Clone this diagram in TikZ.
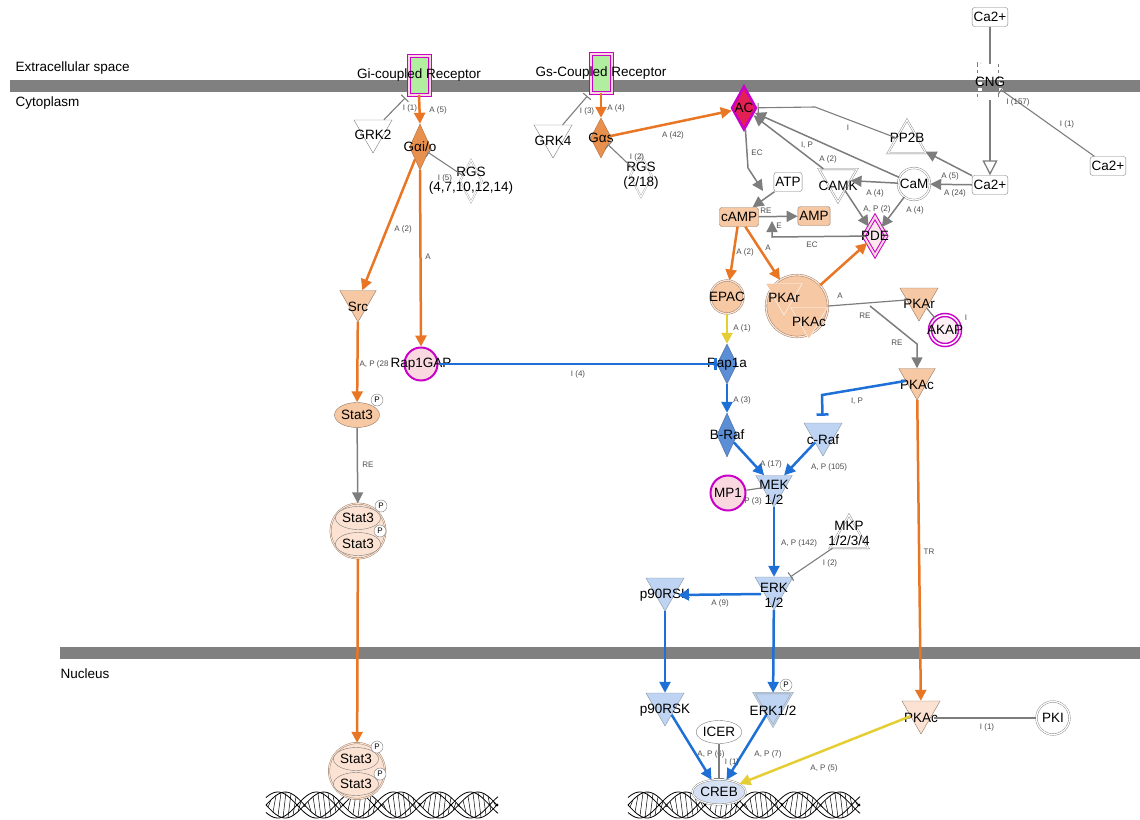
\documentclass[tikz,border=0pt]{standalone}
\usepackage{fontspec}
\setmainfont{Liberation Sans}
\usetikzlibrary{shapes.geometric,arrows.meta,positioning}

\definecolor{membrane}{RGB}{128,128,128}
\definecolor{edgeO}{RGB}{232,118,36}
\definecolor{edgeB}{RGB}{30,112,214}
\definecolor{edgeY}{RGB}{228,206,52}
\definecolor{edgeG}{RGB}{125,125,125}
\definecolor{fillO}{RGB}{232,145,78}
\definecolor{fillOL}{RGB}{246,200,164}
\definecolor{fillOP}{RGB}{251,226,210}
\definecolor{fillB}{RGB}{92,142,214}
\definecolor{fillBL}{RGB}{190,212,242}
\definecolor{fillBP}{RGB}{214,226,244}
\definecolor{mag}{RGB}{200,0,200}
\definecolor{fillPk}{RGB}{250,216,224}
\definecolor{recG}{RGB}{178,238,160}
\definecolor{acR}{RGB}{226,32,84}

\tikzset{
  lbl/.style={font=\fontsize{13.5}{15}\selectfont},
  elab/.style={font=\fontsize{8}{8.5}\selectfont, text=black!70, inner sep=0.5pt},
  tri/.style={regular polygon, regular polygon sides=3, inner sep=0pt, minimum size=44pt, draw=edgeG},
  tridown/.style={tri, shape border rotate=180},
  dmd/.style={diamond, inner sep=0pt, minimum width=21pt, minimum height=42pt, draw=edgeG},
  chem/.style={rectangle, rounded corners=2.5pt, draw=edgeG, lbl, inner sep=1.5pt, minimum height=19pt},
  ring/.style={circle, draw=edgeG, double=white, double distance=1.3pt, minimum size=32pt, inner sep=0pt},
  oval/.style={ellipse, draw=edgeG, inner sep=0pt, minimum width=45pt, minimum height=25pt, lbl},
  pdot/.style={circle, draw=edgeG, fill=white, inner sep=0pt, minimum size=12pt, font=\fontsize{8}{8}\selectfont},
  rcpt/.style={rectangle, draw=mag, double=fillPk, double distance=2pt, line width=1pt, fill=recG, minimum width=21pt, minimum height=39pt},
  tip/.style={-{Triangle[length=11pt,width=11pt]}},
  oedge/.style={draw=edgeO, line width=2.5pt, tip},
  bedge/.style={draw=edgeB, line width=2.5pt, tip},
  yedge/.style={draw=edgeY, line width=2.5pt, tip},
  gedge/.style={draw=edgeG, line width=1.5pt, tip},
  gline/.style={draw=edgeG, line width=1.2pt},
  gbar/.style={draw=edgeG, line width=1.1pt, -{Bar[width=10pt]}},
  bbar/.style={draw=edgeB, line width=2.5pt, -{Bar[width=12pt]}},
}

\begin{document}
\begin{tikzpicture}[x=1pt,y=-1pt]
    \useasboundingbox (0,0) rectangle (1140,819);
    % membranes
    \fill[membrane] (10,80) rectangle (1140,92);
    \fill[membrane] (60,647) rectangle (1140,659);
    \node[lbl, anchor=west] (extra) at (12,68) {Extracellular space};
    \node[lbl, anchor=west] (cyto) at (12,103) {Cytoplasm};
    \node[lbl, anchor=west] (nucl) at (57,674) {Nucleus};

    % DNA
    \foreach \xa in {266,628} {
      \draw[line width=0.8pt, domain=0:232, samples=140, smooth] plot ({\xa+\x},{805+13*sin(\x*4.6753)});
      \draw[line width=0.8pt, domain=0:232, samples=140, smooth] plot ({\xa+\x},{805+13*sin(\x*4.6753+35)});
      \draw[line width=0.8pt, domain=0:232, samples=140, smooth] plot ({\xa+\x},{805-13*sin(\x*4.6753)});
      \draw[line width=0.8pt, domain=0:232, samples=140, smooth] plot ({\xa+\x},{805-13*sin(\x*4.6753+35)});
      \foreach \t in {2,7,...,228}
        \draw[line width=0.5pt] ({\xa+\t},{805+13*sin(\t*4.6753)}) -- ({\xa+\t+3},{805-13*sin((\t+3)*4.6753)});
    }

    % Gi branch
    \node[rcpt, label={[lbl]center:Gi-coupled Receptor}] (gir) at (419,75) {};
    \node[tridown, fill=white, label={[lbl,yshift=-4pt]center:GRK2}] (grk2) at (373,131) {};
    \node[dmd, fill=fillO, draw=fillO!75!black, minimum height=46pt, label={[lbl]center:Gαi/o}] (gio) at (420,147) {};
    \node[dmd, draw=edgeG!70, double=white, double distance=1pt, minimum width=22pt, label={[lbl,align=center]center:{RGS\\(4,7,10,12,14)}}] (rgsA) at (471,181) {};
    \node[tridown, minimum size=42pt, fill=fillOL, draw=fillOL!60!black, label={[lbl,yshift=-6pt]center:Src}] (src) at (358,301) {};
    \node[circle, draw=mag, line width=2pt, fill=fillPk, minimum size=33pt, inner sep=0pt, label={[lbl]center:Rap1GAP}] (rapgap) at (421,364) {};
    \node[oval, fill=fillOL, draw=fillOL!60!black] (stat) at (357,415) {Stat3};
    \node[pdot] (statp) at (377,400) {P};
    \node[circle, draw=fillOL!60!black, double=fillOP, double distance=1pt, fill=fillOP, minimum size=55pt, inner sep=0pt] (statdim) at (358,531) {};
    \node[oval, fill=fillOP, minimum height=23pt] (statdimA) at (358,518) {Stat3};
    \node[oval, fill=fillOP, minimum height=23pt] (statdimB) at (358,544) {Stat3};
    \node[pdot] (statdimP) at (381,506) {P};
    \node[pdot] (statdimQ) at (380,531) {P};
    \node[circle, draw=fillOL!60!black, double=fillOP, double distance=1pt, fill=fillOP, minimum size=56pt, inner sep=0pt] (statnuc) at (357,771) {};
    \node[oval, fill=fillOP, minimum height=23pt] (statnucA) at (356,759) {Stat3};
    \node[oval, fill=fillOP, minimum height=23pt] (statnucB) at (356,784) {Stat3};
    \node[pdot] (statnucP) at (377,747) {P};
    \node[pdot] (statnucQ) at (380,774) {P};

    % Gs branch
    \node[rcpt, label={[lbl]center:Gs-Coupled Receptor}] (gsr) at (601,73) {};
    \node[tridown, fill=white, label={[lbl,yshift=-5pt]center:GRK4}] (grk4) at (553,136) {};
    \node[dmd, fill=fillO, draw=fillO!75!black, minimum height=40pt, label={[lbl]center:Gαs}] (gas) at (601,138) {};
    \node[dmd, draw=edgeG!70, double=white, double distance=1pt, minimum width=22pt, label={[lbl,align=center]center:{RGS\\(2/18)}}] (rgsB) at (641,176) {};
    \node[dmd, fill=acR, draw=mag, line width=2.5pt, minimum width=25pt, minimum height=44pt, label={[lbl]center:AC}] (ac) at (744,108) {};
    \node[tri, draw=edgeG, double=white, double distance=1.2pt, fill=white, label={[lbl,yshift=4pt]center:PP2B}] (pp2b) at (907,142) {};
    \node[tridown, draw=edgeG, double=white, double distance=1.2pt, fill=white, label={[lbl,yshift=-6pt]center:CAMK}] (camk) at (838,180) {};
    \node[ring, fill=white, label={[lbl]center:CaM}] (cam) at (914,184) {};
    \node[chem, fill=white] (ca2c) at (990,185) {Ca2+};
    \node[chem, fill=white] (ca2t) at (990,17) {Ca2+};
    \node[chem, fill=white] (ca2r) at (1108,166) {Ca2+};
    \node[rectangle, draw=edgeG, dashed, double, double distance=4pt, minimum width=21pt, minimum height=36pt, label={[lbl]center:CNG}] (cng) at (990,82) {};
    \node[chem, fill=white] (atp) at (788,182) {ATP};
    \node[chem, fill=fillOL, draw=fillOL!60!black] (camp) at (739,217) {cAMP};
    \node[chem, fill=fillOL, draw=fillOL!60!black] (amp) at (814,216) {AMP};
    \node[dmd, draw=mag, double=fillPk, double distance=2pt, line width=1pt, fill=fillPk!60, minimum width=23pt, minimum height=39pt, label={[lbl]center:PDE}] (pde) at (875,236) {};
    \node[ring, fill=fillOL, draw=fillOL!60!black, double=fillOP, minimum size=33pt, label={[lbl]center:EPAC}] (epac) at (727,297) {};
    \node[ring, fill=fillOL, draw=fillOL!60!black, double=fillOP, minimum size=62pt] (pkacx) at (797,306) {};
    \node[tridown, minimum size=42pt, fill=fillOL, draw=white, label={[lbl,yshift=-4pt]center:PKAr}] (pkarin) at (784,294) {};
    \node[tridown, minimum size=42pt, fill=fillOL, draw=white, label={[lbl,yshift=-4pt]center:PKAc}] (pkacin) at (809,318) {};
    \node[tridown, fill=fillOL, draw=fillOL!60!black, label={[lbl,yshift=-5pt]center:PKAr}] (pkar2) at (919,299) {};
    \node[circle, draw=mag, double=white, double distance=1.5pt, line width=1.5pt, fill=fillPk!40, minimum size=30pt, inner sep=0pt, label={[lbl]center:AKAP}] (akap) at (945,330) {};
    \node[tridown, minimum size=42pt, fill=fillOL, draw=fillOL!60!black, label={[lbl,yshift=-6pt]center:PKAc}] (pkac1) at (917,379) {};

    % MAPK cascade
    \node[dmd, fill=fillB, draw=fillB!75!black, minimum width=20pt, minimum height=40pt, label={[lbl]center:Rap1a}] (rap1a) at (727,364) {};
    \node[dmd, fill=fillB, draw=fillB!75!black, minimum width=20pt, minimum height=44pt, label={[lbl]center:B-Raf}] (braf) at (727,435) {};
    \node[tridown, fill=fillBL, draw=fillBL!70!black, label={[lbl,yshift=-6pt]center:c-Raf}] (craf) at (823,434) {};
    \node[tridown, minimum size=42pt, fill=fillBL, draw=fillBL!70!black, label={[lbl,align=center,yshift=-6pt]center:{MEK\\1/2}}] (mek) at (774,486) {};
    \node[circle, draw=mag, line width=2pt, fill=fillPk, minimum size=35pt, inner sep=0pt, label={[lbl]center:MP1}] (mp1) at (728,493) {};
    \node[tri, draw=edgeG, double=white, double distance=1.2pt, fill=white, label={[lbl,align=center,yshift=4pt]center:{MKP\\1/2/3/4}}] (mkp) at (849,537) {};
    \node[tridown, fill=fillBL, draw=fillBL!70!black, label={[lbl,align=center,yshift=-7pt]center:{ERK\\1/2}}] (erk) at (774,588) {};
    \node[tridown, fill=fillBL, draw=fillBL!70!black, label={[lbl,yshift=-6pt]center:p90RSK}] (p90c) at (665,589) {};

    % nucleus
    \node[tridown, fill=fillBL, draw=fillBL!70!black, label={[lbl,yshift=-6pt]center:p90RSK}] (p90n) at (665,704) {};
    \node[tridown, fill=fillBL, draw=edgeG!80, double=fillBL, double distance=1.2pt, label={[lbl,yshift=-7pt]center:ERK1/2}] (erkn) at (773,704) {};
    \node[pdot] (erknp) at (786,685) {P};
    \node[tridown, fill=fillOP, draw=fillOL!60!black, label={[lbl,yshift=-6pt]center:PKAc}] (pkacn) at (921,712) {};
    \node[ring, fill=white, minimum size=33pt, label={[lbl]center:PKI}] (pki) at (1053,718) {};
    \node[oval, fill=white, minimum width=44pt, minimum height=23pt] (icer) at (719,732) {ICER};
    \node[oval, fill=fillBP, double=white, double distance=1pt, minimum width=46pt] (creb) at (719,792) {CREB};

    % connectors
    \coordinate (atprxn) at (763,191);
    \coordinate (pdex) at (772,221);
    \coordinate (rebr) at (870,306);

    \draw[gbar, shorten >=4pt] (grk2) -- (gir.south west) node[elab] at (410,108) {I (1)};
    \draw[oedge] (gir.south) -- (gio.north) node[elab] at (438,110) {A (5)};
    \draw[gbar] (rgsA) -- (gio) node[elab] at (445,178) {I (5)};
    \draw[oedge] (gio) -- (src) node[elab] at (403,229) {A (2)};
    \draw[oedge] (gio.south) -- (rapgap.north) node[elab] at (428,257) {A};
    \draw[oedge] (src) -- (stat) node[elab] at (374,364) {A, P (28};
    \draw[gedge] (stat) -- (statdim) node[elab] at (368,465) {RE};
    \draw[oedge] (statdim) -- (statnuc);
    \draw[bbar] (rapgap) -- (rap1a) node[elab] at (578,374) {I (4)};

    \draw[gbar, shorten >=4pt] (grk4) -- (gsr.south west) node[elab] at (587,111) {I (3)};
    \draw[oedge] (gsr.south) -- (gas.north) node[elab] at (616,108) {A (4)};
    \draw[gbar] (rgsB) -- (gas) node[elab] at (637,157) {I (2)};
    \draw[oedge] (gas) -- (ac) node[elab] at (673,135) {A (42)};
    \draw[gbar] (pp2b) -- (815,107) -- (ac) node[elab] at (848,128) {I};
    \draw[gedge] (camk) -- (ac) node[elab] at (807,145) {I, P};
    \draw[gedge] (cam) -- (ac) node[elab] at (828,159) {A (2)};
    \draw[gedge] (cam) -- (camk) node[elab] at (875,193) {A (4)};
    \draw[gedge] (ca2c) -- (cam) node[elab] at (950,176) {A (5)} node[elab] at (955,193) {A (24)};
    \draw[gedge] (ca2c) -- (pp2b);
    \draw[gedge] (camk) -- (pde) node[elab] at (877,209) {A, P (2)};
    \draw[gedge] (cam) -- (pde) node[elab] at (915,210) {A (4)};
    \draw[gline] (ca2t) -- (cng);
    \draw[draw=edgeG, line width=1.3pt, -{Triangle[open,length=15pt,width=15pt]}] (cng) -- (ca2c);
    \draw[gbar] (ca2r) -- (cng) node[elab] at (1067,124) {I (1)} node[elab] at (1018,102) {I (157)};
    \draw[gedge] (ac) -- (748,168) -- (atprxn) node[elab] at (757,153) {EC};
    \draw[gedge] (atp) -- (camp);
    \draw[gedge] (camp) -- (amp) node[elab] at (766,211) {RE};
    \draw[gedge] (pde) -- (772,237) -- (pdex) node[elab] at (812,245) {EC} node[elab] at (779,226) {E};
    \draw[oedge] (camp) -- (epac) node[elab] at (745,252) {A (2)};
    \draw[oedge] (camp) -- (pkacx) node[elab] at (768,248) {A};
    \draw[oedge] (pkacx) -- (pde) node[elab] at (840,296) {A};
    \draw[gline] (pkacx.east) -- (pkar2) node[elab] at (865,316) {RE};
    \draw[gedge] (rebr) -- (917,344) -- (pkac1) node[elab] at (897,343) {RE};
    \draw[gline] (pkar2) -- (akap) node[elab] at (966,318) {I};
    \draw[yedge] (epac) -- (rap1a) node[elab] at (742,328) {A (1)};
    \draw[bedge] (rap1a) -- (braf) node[elab] at (742,400) {A (3)};
    \draw[bedge] (braf) -- (mek) node[elab] at (771,464) {A (17)};
    \draw[bedge] (craf) -- (mek) node[elab] at (829,467) {A, P (105)};
    \draw[bbar, shorten >=7pt] (pkac1) -- (822,395) -- (craf) node[elab] at (857,401) {I, P};
    \draw[gline] (mp1) -- (mek) node[elab] at (753,501) {P (3)};
    \draw[bedge] (mek) -- (erk) node[elab] at (799,543) {A, P (142)};
    \draw[gbar] (mkp) -- (erk) node[elab] at (830,563) {I (2)};
    \draw[bedge] ([yshift=-6pt]erk.west) -- ([yshift=-6pt]p90c.east) node[elab] at (720,603) {A (9)};
    \draw[bedge] (p90c) -- (p90n);
    \draw[bedge] (erk) -- (erkn);
    \draw[oedge] (pkac1) -- (pkacn) node[elab] at (929,552) {TR};
    \draw[gline] ([yshift=-6pt]pkacn.east) -- (pki) node[elab] at (987,727) {I (1)};
    \draw[bedge] (p90n) -- (creb) node[elab] at (711,754) {A, P (6)};
    \draw[bedge] (erkn) -- (creb) node[elab] at (768,754) {A, P (7)};
    \draw[gbar] (icer) -- (creb) node[elab] at (732,762) {I (1)};
    \draw[yedge] (pkacn) -- (creb) node[elab] at (824,768) {A, P (5)};
\end{tikzpicture}
\end{document}
